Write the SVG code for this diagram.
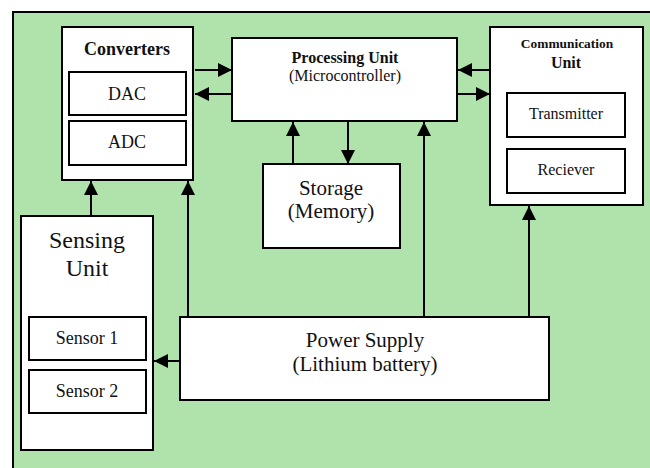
<svg xmlns="http://www.w3.org/2000/svg" width="650" height="468" viewBox="0 0 650 468">
  <style>
    .box { fill: #ffffff; stroke: #000000; stroke-width: 2; }
    .sub { fill: #ffffff; stroke: #000000; stroke-width: 2; }
    .wire { fill: none; stroke: #000000; stroke-width: 2; }
    text { fill: #111111; text-anchor: middle; }
    .b { font-weight: bold; }
  </style>
  <defs>
    <marker id="arrow" viewBox="0 0 10 10" refX="10" refY="5" markerWidth="7" markerHeight="7" markerUnits="strokeWidth" orient="auto">
      <path d="M0,0 L10,5 L0,10 Z" fill="#000000"/>
    </marker>
  </defs>

  <!-- background panel -->
  <rect x="13" y="12" width="640" height="470" fill="#afe3ab" stroke="#000000" stroke-width="2"/>

  <g id="connectors">
    <!-- converters <-> processing -->
    <line class="wire" x1="195" y1="70" x2="232" y2="70" marker-end="url(#arrow)"/>
    <line class="wire" x1="232" y1="94" x2="195" y2="94" marker-end="url(#arrow)"/>
    <!-- communication <-> processing -->
    <line class="wire" x1="490" y1="70" x2="458" y2="70" marker-end="url(#arrow)"/>
    <line class="wire" x1="458" y1="94" x2="490" y2="94" marker-end="url(#arrow)"/>
    <!-- storage <-> processing -->
    <line class="wire" x1="293" y1="164" x2="293" y2="122" marker-end="url(#arrow)"/>
    <line class="wire" x1="348" y1="122" x2="348" y2="164" marker-end="url(#arrow)"/>
    <!-- sensing -> converters -->
    <line class="wire" x1="91" y1="216" x2="91" y2="181" marker-end="url(#arrow)"/>
    <!-- power supply feeds -->
    <line class="wire" x1="188" y1="317" x2="188" y2="181" marker-end="url(#arrow)"/>
    <line class="wire" x1="424" y1="317" x2="424" y2="122" marker-end="url(#arrow)"/>
    <line class="wire" x1="529" y1="317" x2="529" y2="206" marker-end="url(#arrow)"/>
    <line class="wire" x1="180" y1="361" x2="154" y2="361" marker-end="url(#arrow)"/>
  </g>

  <g font-family="'Liberation Serif', 'DejaVu Serif', 'Times New Roman', serif">
    <g id="converters">
      <rect class="box" x="62" y="27" width="131" height="153"/>
      <text class="b" x="127" y="55" font-size="18">Converters</text>
      <rect class="sub" x="69" y="72" width="117" height="43"/>
      <text x="127" y="100" font-size="18">DAC</text>
      <rect class="sub" x="69" y="121" width="117" height="44"/>
      <text x="127" y="148" font-size="18">ADC</text>
    </g>

    <g id="processing">
      <rect class="box" x="232" y="38" width="225" height="83"/>
      <text class="b" x="345" y="63" font-size="16">Processing Unit</text>
      <text x="345" y="81" font-size="16">(Microcontroller)</text>
    </g>

    <g id="storage">
      <rect class="box" x="263" y="164" width="137" height="84"/>
      <text x="331" y="195" font-size="21">Storage</text>
      <text x="331" y="218" font-size="21">(Memory)</text>
    </g>

    <g id="communication">
      <rect class="box" x="490" y="27" width="153" height="178"/>
      <text class="b" x="567" y="48" font-size="13.4">Communication</text>
      <text class="b" x="566" y="68" font-size="16">Unit</text>
      <rect class="sub" x="507" y="93" width="118" height="44"/>
      <text x="566" y="119" font-size="16">Transmitter</text>
      <rect class="sub" x="507" y="149" width="118" height="44"/>
      <text x="566" y="175" font-size="16">Reciever</text>
    </g>

    <g id="sensing">
      <rect class="box" x="21" y="216" width="132" height="234"/>
      <text x="87" y="248" font-size="24">Sensing</text>
      <text x="87" y="276" font-size="24">Unit</text>
      <rect class="sub" x="29" y="317" width="117" height="43"/>
      <text x="87" y="344" font-size="18">Sensor 1</text>
      <rect class="sub" x="29" y="370" width="117" height="43"/>
      <text x="87" y="397" font-size="18">Sensor 2</text>
    </g>

    <g id="power">
      <rect class="box" x="180" y="317" width="369" height="83"/>
      <text x="365" y="347" font-size="21">Power Supply</text>
      <text x="365" y="371" font-size="21">(Lithium battery)</text>
    </g>
  </g>
</svg>
